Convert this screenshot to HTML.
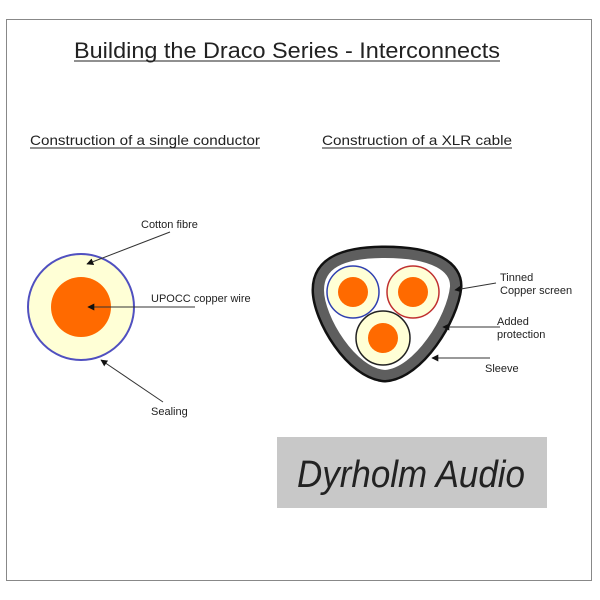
<!DOCTYPE html>
<html><head><meta charset="utf-8"><style>
html,body{margin:0;padding:0;background:#fff;}
svg{display:block;}
text{font-family:"Liberation Sans",Arial,sans-serif;fill:#222;}
</style></head><body>
<svg width="600" height="600" viewBox="0 0 600 600" xmlns="http://www.w3.org/2000/svg">
<defs>
<marker id="ah" viewBox="0 0 10 10" refX="9" refY="5" markerWidth="7" markerHeight="7" orient="auto"><path d="M0,0 L10,5 L0,10 Z" fill="#111"/></marker>
</defs>
<rect x="6.5" y="19.5" width="585" height="561" fill="#fff" stroke="#888" stroke-width="1"/>
<text x="74" y="58" font-size="22" textLength="426" lengthAdjust="spacingAndGlyphs">Building the Draco Series - Interconnects</text>
<line x1="74" y1="61" x2="500" y2="61" stroke="#222" stroke-width="1"/>
<text x="30" y="145" font-size="14" textLength="230" lengthAdjust="spacingAndGlyphs">Construction of a single conductor</text>
<line x1="30" y1="148" x2="260" y2="148" stroke="#222" stroke-width="1"/>
<text x="322" y="145" font-size="14" textLength="190" lengthAdjust="spacingAndGlyphs">Construction of a XLR cable</text>
<line x1="322" y1="148" x2="512" y2="148" stroke="#222" stroke-width="1"/>

<!-- single conductor -->
<circle cx="81" cy="307" r="53" fill="#ffffd6" stroke="#5050c0" stroke-width="2"/>
<circle cx="81" cy="307" r="30" fill="#ff6a00"/>
<text x="141" y="228" font-size="11">Cotton fibre</text>
<line x1="170" y1="232" x2="87" y2="264" stroke="#333" stroke-width="1" marker-end="url(#ah)"/>
<text x="151" y="302" font-size="11">UPOCC copper wire</text>
<line x1="195" y1="307" x2="88" y2="307" stroke="#333" stroke-width="1" marker-end="url(#ah)"/>
<text x="151" y="415" font-size="11">Sealing</text>
<line x1="163" y1="402" x2="101" y2="360" stroke="#333" stroke-width="1" marker-end="url(#ah)"/>

<!-- XLR -->
<path d="M385,253 C435,253 456,268 455,287 C452,318 418,373 385,375 C352,373 319,318 319,290 C319,265 340,253 385,253 Z" fill="#fff" stroke="#111" stroke-width="15"/>
<path d="M385,253 C435,253 456,268 455,287 C452,318 418,373 385,375 C352,373 319,318 319,290 C319,265 340,253 385,253 Z" fill="#fff" stroke="#5e5e5e" stroke-width="10"/>
<circle cx="353" cy="292" r="26" fill="#ffffd6" stroke="#3040b0" stroke-width="1.5"/>
<circle cx="353" cy="292" r="15" fill="#ff6a00"/>
<circle cx="413" cy="292" r="26" fill="#ffffd6" stroke="#c03030" stroke-width="1.5"/>
<circle cx="413" cy="292" r="15" fill="#ff6a00"/>
<circle cx="383" cy="338" r="27" fill="#ffffd6" stroke="#222" stroke-width="1.5"/>
<circle cx="383" cy="338" r="15" fill="#ff6a00"/>
<text x="500" y="281" font-size="11">Tinned</text>
<text x="500" y="294" font-size="11">Copper screen</text>
<line x1="496" y1="283" x2="455" y2="290" stroke="#333" stroke-width="1" marker-end="url(#ah)"/>
<text x="497" y="325" font-size="11">Added</text>
<text x="497" y="338" font-size="11">protection</text>
<line x1="500" y1="327" x2="443" y2="327" stroke="#333" stroke-width="1" marker-end="url(#ah)"/>
<text x="485" y="372" font-size="11">Sleeve</text>
<line x1="490" y1="358" x2="432" y2="358" stroke="#333" stroke-width="1" marker-end="url(#ah)"/>

<!-- logo -->
<rect x="277" y="437" width="270" height="71" fill="#c8c8c8"/>
<text x="297" y="487" font-size="38" font-style="italic" font-family="'DejaVu Serif','Liberation Serif',serif" fill="#2a2a2a" textLength="228" lengthAdjust="spacingAndGlyphs">Dyrholm Audio</text>
</svg>
</body></html>
